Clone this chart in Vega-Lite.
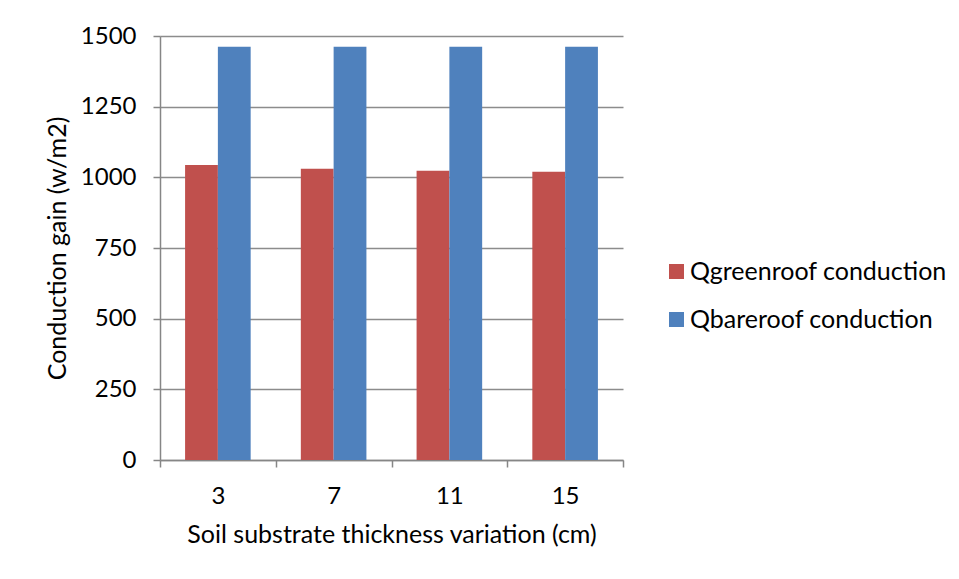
{
  "$schema": "https://vega.github.io/schema/vega-lite/v6.json",
  "width": 463,
  "height": 424,
  "autosize": {"type": "none"},
  "padding": {"left": 160, "top": 36, "right": 336, "bottom": 119},
  "background": "white",
  "config": {
    "view": {"stroke": null},
    "font": "Lato",
    "axis": {"labelFont": "Lato", "titleFont": "Lato", "labelColor": "#000000", "titleColor": "#000000", "titleFontWeight": "normal"}
  },
  "data": {
    "values": [
      {"thickness": "3", "series": "Qgreenroof conduction", "order": 0, "value": 1044},
      {"thickness": "3", "series": "Qbareroof conduction", "order": 1, "value": 1462},
      {"thickness": "7", "series": "Qgreenroof conduction", "order": 0, "value": 1030},
      {"thickness": "7", "series": "Qbareroof conduction", "order": 1, "value": 1462},
      {"thickness": "11", "series": "Qgreenroof conduction", "order": 0, "value": 1023},
      {"thickness": "11", "series": "Qbareroof conduction", "order": 1, "value": 1462},
      {"thickness": "15", "series": "Qgreenroof conduction", "order": 0, "value": 1020},
      {"thickness": "15", "series": "Qbareroof conduction", "order": 1, "value": 1462}
    ]
  },
  "mark": {"type": "bar"},
  "encoding": {
    "x": {
      "field": "thickness",
      "type": "nominal",
      "sort": ["3", "7", "11", "15"],
      "scale": {"paddingInner": 0, "paddingOuter": 0},
      "axis": {
        "title": "Soil substrate thickness variation (cm)",
        "titleFontSize": 25,
        "titlePadding": 14,
        "labelFontSize": 24,
        "labelAngle": 0,
        "labelPadding": 17,
        "tickBand": "extent",
        "tickSize": 7,
        "tickColor": "#868686",
        "tickWidth": 1.5,
        "domainColor": "#868686",
        "domainWidth": 1.5,
        "grid": false
      }
    },
    "xOffset": {
      "field": "series",
      "type": "nominal",
      "sort": ["Qgreenroof conduction", "Qbareroof conduction"],
      "scale": {"paddingInner": 0, "paddingOuter": 0.765}
    },
    "y": {
      "field": "value",
      "type": "quantitative",
      "scale": {"domain": [0, 1500], "nice": false},
      "axis": {
        "title": "Conduction gain (w/m2)",
        "titleFontSize": 25,
        "titlePadding": 10,
        "values": [0, 250, 500, 750, 1000, 1250, 1500],
        "format": "d",
        "labelFontSize": 24,
        "labelPadding": 17,
        "tickSize": 7,
        "tickColor": "#868686",
        "tickWidth": 1.5,
        "domainColor": "#868686",
        "domainWidth": 1.5,
        "grid": true,
        "gridColor": "#8c8c8c",
        "gridWidth": 1.5
      }
    },
    "color": {
      "field": "series",
      "type": "nominal",
      "sort": ["Qgreenroof conduction", "Qbareroof conduction"],
      "scale": {"domain": ["Qgreenroof conduction", "Qbareroof conduction"], "range": ["#C0504D", "#4F81BD"]},
      "legend": {
        "title": null,
        "orient": "none",
        "legendX": 504,
        "legendY": 223,
        "symbolType": "square",
        "symbolSize": 225,
        "symbolStrokeWidth": 0,
        "labelFontSize": 25,
        "labelFont": "Lato",
        "labelColor": "#000000",
        "labelOffset": 1,
        "rowPadding": 22,
        "labelLimit": 400
      }
    }
  }
}
